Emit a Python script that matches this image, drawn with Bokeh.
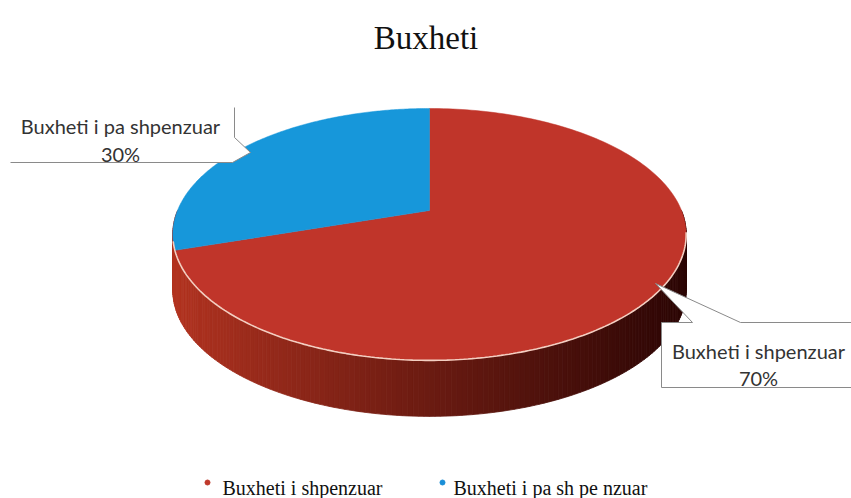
import numpy as np
from bokeh.plotting import figure
from bokeh.models import Range1d
from bokeh.embed import file_html
from bokeh.resources import INLINE
from bokeh.core.properties import value

# ---------------- data ----------------
chart_title = "Buxheti"
categories = ["Buxheti i shpenzuar", "Buxheti i pa shpenzuar"]
shares = [70, 30]
pct_labels = ["70%", "30%"]
legend_labels = ["Buxheti i shpenzuar", "Buxheti i pa sh pe nzuar"]

# ---------------- style ----------------
TOP_COLORS = ["#c0352a", "#1797da"]
WALL_LIGHT = (180, 52, 33)
WALL_DARK = (44, 6, 5)
DOT_COLORS = ["#c0392b", "#1a8fd8"]
CX, CY, R, S, K, D = 429.0, 210.0, 252.0, 121.4, 0.19, 56.0
CALLOUT_FONT = "Lato"
SERIF = "Liberation Serif"
W, H = 851, 498

p = figure(width=W, height=H, output_backend="svg", toolbar_location=None,
           x_range=Range1d(0, W), y_range=Range1d(H, 0),
           x_axis_location=None, y_axis_location=None, min_border=0)
p.outline_line_color = None
p.xgrid.visible = False
p.ygrid.visible = False
p.background_fill_color = "white"


def proj(t):
    u, v = np.cos(t), np.sin(t)
    w = 1 + K * v
    return CX + R * u / w, CY - S * v / w


total = float(sum(shares))
starts, ends = [], []
cum = 0.0
for s in shares:
    a0 = np.deg2rad(90 - 360 * cum / total)
    cum += s
    a1 = np.deg2rad(90 - 360 * cum / total)
    starts.append(a0)
    ends.append(a1)

xmin, xmax = CX - R * 1.02, CX + R * 1.02

# side wall of the near half (front slice colour)
wx, wy, wc = [], [], []
ts = np.deg2rad(np.linspace(180, 360, 181))
for j in range(len(ts) - 1):
    t1, t2 = ts[j], ts[j + 1]
    x1, y1 = proj(t1)
    x2, y2 = proj(t2)
    f = np.clip(((x1 + x2) / 2 - xmin) / (xmax - xmin), 0, 1) ** 0.9
    c = tuple(int(WALL_LIGHT[k] + (WALL_DARK[k] - WALL_LIGHT[k]) * f) for k in range(3))
    wx.append([x1, x2, x2, x1])
    wy.append([y1, y2, y2 + D, y1 + D])
    wc.append("#%02x%02x%02x" % c)
p.patches(wx, wy, fill_color=wc, line_color=wc, line_width=0.8)

# top surface
for i in range(len(shares)):
    tt = np.linspace(starts[i], ends[i], 200)
    ax, ay = proj(tt)
    p.patch(np.concatenate([[CX], ax]), np.concatenate([[CY], ay]),
            fill_color=TOP_COLORS[i], line_color=TOP_COLORS[i], line_width=0.5)

# light rim on the near edge
tr = np.linspace(np.deg2rad(194), np.deg2rad(350), 200)
rx, ry = proj(tr)
p.line(rx, ry, line_color="#f3cfc2", line_width=1.6)

# ---------------- callouts ----------------
GRAY = "#8a8a8a"
p.patch([8, 234, 234, 250, 232, 8], [104, 104, 137, 152, 162, 162],
        fill_color="white", line_color=None)
p.line([234, 234, 250], [107, 137, 152], line_color=GRAY, line_width=1)
p.line([10, 232, 250], [162, 162, 152], line_color=GRAY, line_width=1)
p.patch([661, 692, 655, 740, 851, 851, 661], [322, 322, 283, 322, 322, 387, 387],
        fill_color="white", line_color=None)
p.line([661, 661, 851], [322, 387, 387], line_color=GRAY, line_width=1)
p.line([661, 692, 655, 740, 851], [322, 322, 283, 322, 322], line_color=GRAY, line_width=1)

lab_x = [758, 120]
lab_y1 = [350, 125]
lab_y2 = [377, 153]
p.text(x=lab_x, y=lab_y1, text=categories, text_font=value(CALLOUT_FONT),
       text_font_size="20px", text_color="#333333", text_align="center",
       text_baseline="alphabetic")
p.text(x=lab_x, y=lab_y2, text=pct_labels, text_font=value(CALLOUT_FONT),
       text_font_size="20px", text_color="#333333", text_align="center",
       text_baseline="alphabetic")

# ---------------- title ----------------
p.text(x=[425.5], y=[37], text=[chart_title], text_font=value(SERIF),
       text_font_size="33px", text_color="#111111", text_align="center",
       text_baseline="alphabetic")

# ---------------- legend ----------------
p.scatter(x=[207, 442], y=[482, 482], size=5, color=DOT_COLORS, marker="circle")
p.text(x=[222, 453], y=[487, 487], text=legend_labels, text_font=value(SERIF),
       text_font_size="20px", text_color="#111111", text_align="left",
       text_baseline="alphabetic")

open("out.html", "w").write(file_html(p, INLINE))
